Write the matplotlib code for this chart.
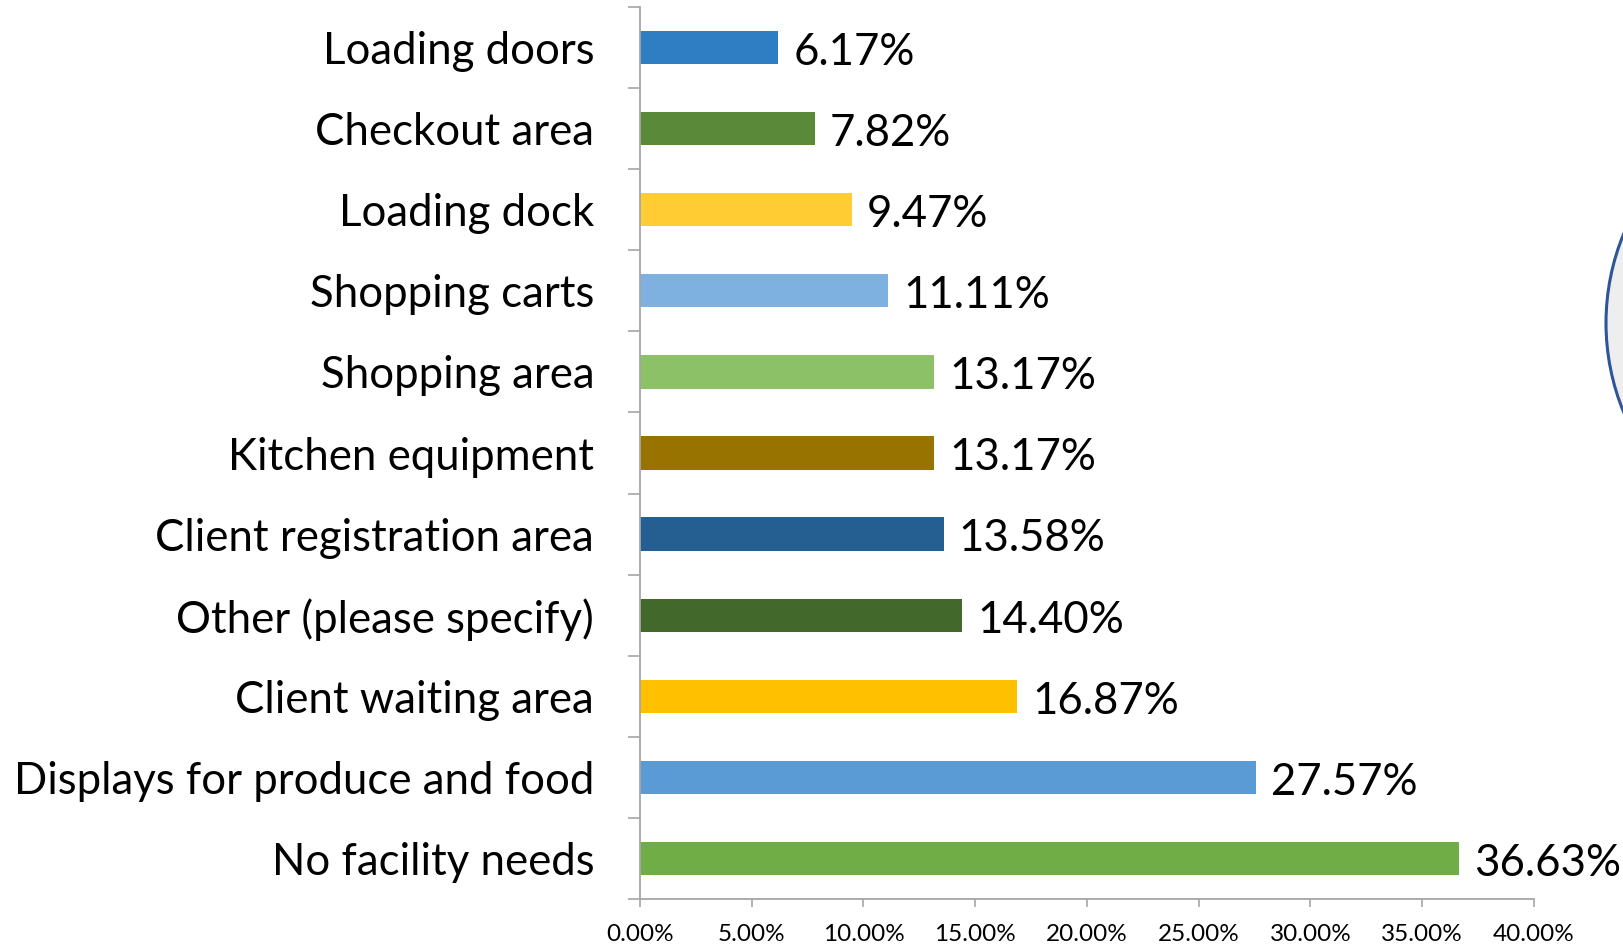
import matplotlib
matplotlib.use("Agg")
import matplotlib.pyplot as plt
from matplotlib.patches import Ellipse
import numpy as np

# Survey results: share of respondents per facility need (top to bottom)
categories = [
    "Loading doors",
    "Checkout area",
    "Loading dock",
    "Shopping carts",
    "Shopping area",
    "Kitchen equipment",
    "Client registration area",
    "Other (please specify)",
    "Client waiting area",
    "Displays for produce and food",
    "No facility needs",
]
values = [6.17, 7.82, 9.47, 11.11, 13.17, 13.17, 13.58, 14.40, 16.87, 27.57, 36.63]
value_labels = ["6.17%", "7.82%", "9.47%", "11.11%", "13.17%", "13.17%",
                "13.58%", "14.40%", "16.87%", "27.57%", "36.63%"]
x_ticks = [0, 5, 10, 15, 20, 25, 30, 35, 40]
x_tick_labels = ["0.00%", "5.00%", "10.00%", "15.00%", "20.00%",
                 "25.00%", "30.00%", "35.00%", "40.00%"]
bar_colors = ["#2f7dc3", "#5a8a39", "#ffcd33", "#7eb0e0", "#8cc168", "#997300",
              "#255e91", "#43682b", "#ffc000", "#5b9bd5", "#70ad47"]

W, H = 1624, 946
fig = plt.figure(figsize=(W / 100, H / 100), dpi=100)
fig.patch.set_facecolor("white")

ax = fig.add_axes([640 / W, 47 / H, (1534 - 640) / W, (899 - 7) / H])

n = len(categories)
pos = np.arange(n)
ax.barh(pos, values, height=0.41, color=bar_colors)
ax.set_ylim(n - 0.5, -0.5)
ax.set_xlim(0, 40)

font = "Lato"
ax.set_yticks(pos)
ax.set_yticklabels(categories, fontsize=31.5, family=font, color="#000000")
ax.tick_params(axis="y", which="major", length=0, pad=33)
ax.set_yticks(np.arange(-0.5, n, 1.0), minor=True)
ax.tick_params(axis="y", which="minor", length=9, width=1.2, color="#a6a6a6")

ax.set_xticks(x_ticks)
ax.set_xticklabels(x_tick_labels, fontsize=17.5, family=font, color="#000000")
ax.tick_params(axis="x", length=6, width=1.2, color="#a6a6a6", pad=12)

for side in ("top", "right"):
    ax.spines[side].set_visible(False)
for side in ("left", "bottom"):
    ax.spines[side].set_color("#a6a6a6")
    ax.spines[side].set_linewidth(1.3)

for p, v, lab in zip(pos, values, value_labels):
    ax.annotate(lab, xy=(v, p), xytext=(11, -3.5), textcoords="offset points",
                ha="left", va="center", fontsize=31.5, family=font, color="#000000",
                annotation_clip=False)

# Decorative circle partly visible at the right edge
r = 234
fig.add_artist(Ellipse((1840 / W, 1 - 323 / H), 2 * r / W, 2 * r / H,
                       transform=fig.transFigure, facecolor="#eeeeee",
                       edgecolor="#2f5597", linewidth=2.2, zorder=0))

fig.savefig("out.png", dpi=100)
